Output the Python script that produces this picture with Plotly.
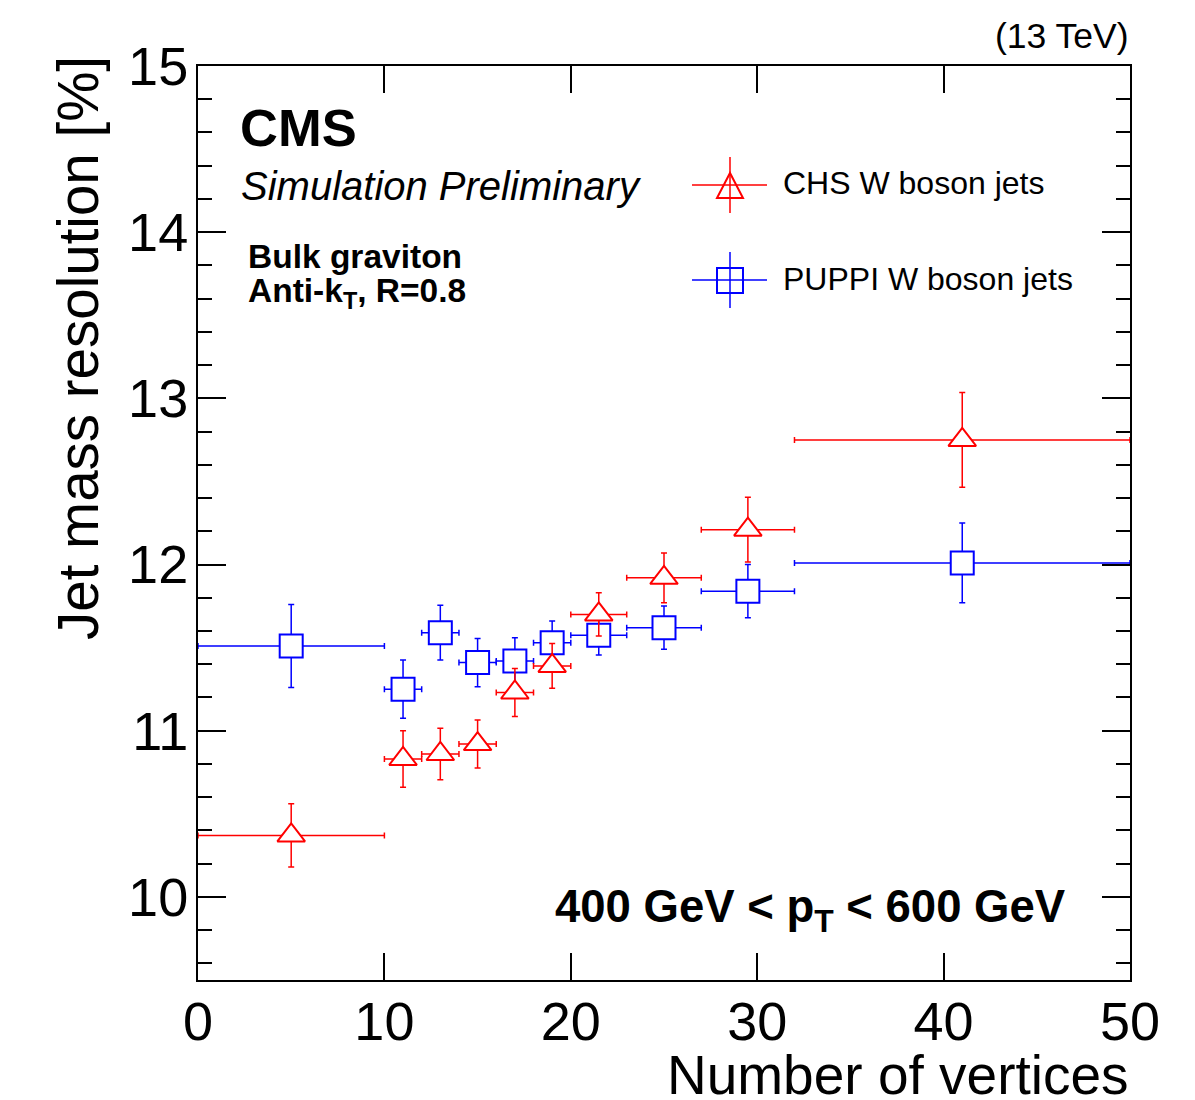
import plotly.graph_objects as go

# ---- data ----
x_centers = [5, 11, 13, 15, 17, 19, 21.5, 25, 29.5, 41]
bin_low = [0, 10, 12, 14, 16, 18, 20, 23, 27, 32]
bin_high = [10, 12, 14, 16, 18, 20, 23, 27, 32, 50]

chs_res = [10.37, 10.83, 10.86, 10.92, 11.23, 11.39, 11.70, 11.92, 12.21, 12.75]
chs_err = [0.19, 0.17, 0.155, 0.145, 0.145, 0.135, 0.13, 0.15, 0.195, 0.285]

puppi_res = [11.51, 11.25, 11.59, 11.41, 11.42, 11.53, 11.575, 11.62, 11.84, 12.01]
puppi_err = [0.25, 0.175, 0.165, 0.145, 0.14, 0.13, 0.12, 0.13, 0.16, 0.24]

x_tick_vals = [0, 10, 20, 30, 40, 50]
y_tick_vals = [10, 11, 12, 13, 14, 15]

xerr_plus = [h - c for h, c in zip(bin_high, x_centers)]
xerr_minus = [c - l for c, l in zip(x_centers, bin_low)]

RED = "#ff0000"
BLUE = "#0000ff"
FONT = "Liberation Sans"

W, H = 1195, 1100
L, R, T, B = 198, 65, 66, 120
PW, PH = W - L - R, H - T - B


def px(xp):
    return (xp - L) / PW


def py(yp):
    return (H - B - yp) / PH


def err_style(color, arr, arrminus=None):
    d = dict(type="data", array=arr, color=color, thickness=1.5, width=3, visible=True)
    if arrminus is not None:
        d["symmetric"] = False
        d["arrayminus"] = arrminus
    return d


fig = go.Figure()

fig.add_trace(go.Scatter(
    x=x_centers, y=puppi_res, mode="markers", name="PUPPI W boson jets",
    marker=dict(symbol="square", size=23, color="white", line=dict(color=BLUE, width=2)),
    error_x=err_style(BLUE, xerr_plus, xerr_minus),
    error_y=err_style(BLUE, puppi_err),
    showlegend=False,
))

fig.add_trace(go.Scatter(
    x=x_centers, y=chs_res, mode="markers", name="CHS W boson jets",
    marker=dict(symbol="triangle-up", size=24, color="white", line=dict(color=RED, width=2)),
    error_x=err_style(RED, xerr_plus, xerr_minus),
    error_y=err_style(RED, chs_err),
    showlegend=False,
))

axis_common = dict(
    showline=True, linecolor="black", linewidth=2, mirror="allticks",
    ticks="inside", tickcolor="black", tickwidth=1.5,
    showgrid=False, zeroline=False,
    tickfont=dict(family=FONT, size=54, color="black"),
)

fig.update_xaxes(range=[0, 50], tickvals=x_tick_vals, ticklen=27,
                 ticklabelstandoff=-7, **axis_common)
fig.update_yaxes(range=[9.5, 15], tickvals=y_tick_vals, ticklen=28,
                 ticklabelstandoff=-3,
                 minor=dict(dtick=0.2, ticklen=14, tickcolor="black", tickwidth=1.5, ticks="inside"),
                 **axis_common)

annotations = []


def ann(text, xp, yp, size, xanchor="left", yanchor="middle", angle=0):
    annotations.append(dict(
        text=text, x=px(xp), y=py(yp), xref="paper", yref="paper",
        xanchor=xanchor, yanchor=yanchor, showarrow=False, textangle=angle,
        font=dict(family=FONT, size=size, color="black"),
    ))


ann("Number of vertices", 1131, 1075, 55, xanchor="right")
ann("Jet mass resolution [%]", 78, 54, 56.5, xanchor="center", yanchor="top", angle=-90)
ann("<b>CMS</b>", 238, 128, 52.5)
ann("<i>Simulation Preliminary</i>", 239, 186, 40)
ann("<b>Bulk graviton</b>", 246, 257, 33.5)
ann("<b>Anti-k<sub>T</sub>, R=0.8</b>", 246, 293, 33.5)
ann("<b>400 GeV &lt; p<sub>T</sub> &lt; 600 GeV</b>", 1068, 910, 45.5, xanchor="right")
ann("(13 TeV)", 1131, 36, 35.5, xanchor="right")
ann("CHS W boson jets", 781, 183, 32)
ann("PUPPI W boson jets", 781, 279, 32)

# legend symbols drawn as shapes (paper coordinates)
shapes = []


def line(x0, y0, x1, y1, color):
    shapes.append(dict(type="line", xref="paper", yref="paper",
                       x0=px(x0), y0=py(y0), x1=px(x1), y1=py(y1),
                       line=dict(color=color, width=1.5)))


def path(points, color):
    d = "M " + " L ".join(f"{px(a):.5f},{py(b):.5f}" for a, b in points) + " Z"
    shapes.append(dict(type="path", xref="paper", yref="paper", path=d,
                       line=dict(color=color, width=2)))


# CHS legend entry
line(692, 185, 767, 185, RED)
line(730, 157, 730, 213, RED)
path([(717, 198), (743, 198), (730, 173)], RED)
# PUPPI legend entry
line(692, 280, 767, 280, BLUE)
line(730, 252, 730, 308, BLUE)
path([(717, 268), (743, 268), (743, 293), (717, 293)], BLUE)

fig.update_layout(
    width=W, height=H,
    margin=dict(l=L, r=R, t=T, b=B, pad=0),
    paper_bgcolor="white", plot_bgcolor="white",
    annotations=annotations, shapes=shapes,
    showlegend=False,
)

fig.write_html("out.html")
